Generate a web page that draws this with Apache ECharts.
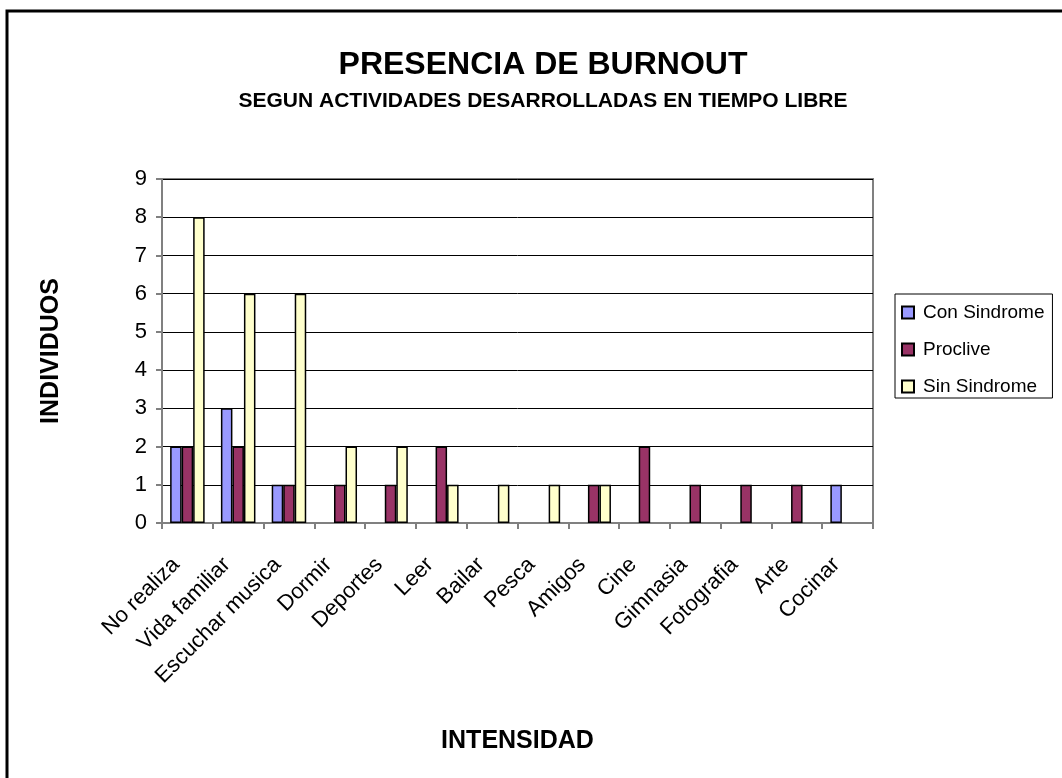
<!DOCTYPE html>
<html>
<head>
<meta charset="utf-8">
<script src="https://cdn.jsdelivr.net/npm/echarts@6/dist/echarts.min.js"></script>
<style>
  html, body { margin: 0; padding: 0; background: #fff; }
  #charts { width: 1062px; height: 778px; }
</style>
</head>
<body>
<div id="charts"></div>
<script>
// categorias del eje x
const categorias = ['No realiza', 'Vida familiar', 'Escuchar musica', 'Dormir', 'Deportes', 'Leer', 'Bailar', 'Pesca', 'Amigos', 'Cine', 'Gimnasia', 'Fotografia', 'Arte', 'Cocinar']
// valores por serie
const conSindrome = [2, 3, 1, 0, 0, 0, 0, 0, 0, 0, 0, 0, 0, 1]
const proclive = [2, 2, 1, 1, 1, 2, 0, 0, 1, 2, 1, 1, 1, 0]
const sinSindrome = [8, 6, 6, 2, 2, 1, 1, 1, 1, 0, 0, 0, 0, 0]

const fuente = '"Liberation Sans", Arial, sans-serif'

const echart = echarts.init(document.getElementById('charts'))

// arma una serie de barras
const makeSerie = (name, data, color) => ({
  name: name,
  type: 'bar',
  data: data.map(v => (v === 0 ? null : v)),
  barGap: '0%',
  barCategoryGap: '32%',
  itemStyle: { color: color, borderColor: '#000', borderWidth: 1.5 }
})

const option = {
  backgroundColor: '#fff',
  animation: false,
  textStyle: { fontFamily: fuente },
  title: [
    {
      text: 'PRESENCIA DE BURNOUT',
      left: 538,
      top: 44,
      textAlign: 'center',
      textStyle: { fontSize: 32, fontWeight: 'bold', color: '#000', fontFamily: fuente }
    },
    {
      text: 'SEGUN ACTIVIDADES DESARROLLADAS EN TIEMPO LIBRE',
      left: 538,
      top: 86,
      textAlign: 'center',
      textStyle: { fontSize: 21, fontWeight: 'bold', color: '#000', fontFamily: fuente }
    }
  ],
  legend: {
    orient: 'vertical',
    left: 895,
    top: 294,
    padding: [9, 8, 2, 6],
    itemGap: 18,
    itemWidth: 12,
    itemHeight: 12,
    icon: 'rect',
    borderColor: '#000',
    borderWidth: 1,
    textStyle: { fontSize: 19, lineHeight: 19, color: '#000', fontFamily: fuente, padding: [0, 0, 0, 4] }
  },
  grid: {
    left: 162,
    right: 189,
    top: 179,
    bottom: 255,
    show: true,
    borderColor: '#808080',
    borderWidth: 2,
    containLabel: false
  },
  xAxis: {
    type: 'category',
    data: categorias,
    name: 'INTENSIDAD',
    nameLocation: 'middle',
    nameGap: 206,
    nameTextStyle: { fontSize: 25, fontWeight: 'bold', color: '#000' },
    axisLine: { lineStyle: { color: '#808080', width: 2 } },
    axisTick: { show: true, length: 6, lineStyle: { color: '#808080', width: 2 } },
    axisLabel: { rotate: 45, fontSize: 22, color: '#000', margin: 27, padding: [0, 16, 0, 0], interval: 0 }
  },
  yAxis: {
    type: 'value',
    min: 0,
    max: 9,
    interval: 1,
    name: 'INDIVIDUOS',
    nameLocation: 'middle',
    nameGap: 98,
    nameRotate: 90,
    nameTextStyle: { fontSize: 25, fontWeight: 'bold', color: '#000' },
    axisLine: { show: true, lineStyle: { color: '#808080', width: 2 } },
    axisTick: { show: true, length: 6, lineStyle: { color: '#808080', width: 2 } },
    axisLabel: { fontSize: 22, color: '#000', margin: 15 },
    splitLine: { show: true, lineStyle: { color: '#000', width: 1 } }
  },
  graphic: [
    {
      type: 'rect',
      shape: { x: 7, y: 11, width: 1080, height: 790 },
      style: { fill: 'none', stroke: '#000', lineWidth: 3 },
      silent: true
    }
  ],
  series: [
    makeSerie('Con Sindrome', conSindrome, '#9999FF'),
    makeSerie('Proclive', proclive, '#993366'),
    makeSerie('Sin Sindrome', sinSindrome, '#FFFFCC')
  ]
}
echart.setOption(option)
</script>
</body>
</html>
